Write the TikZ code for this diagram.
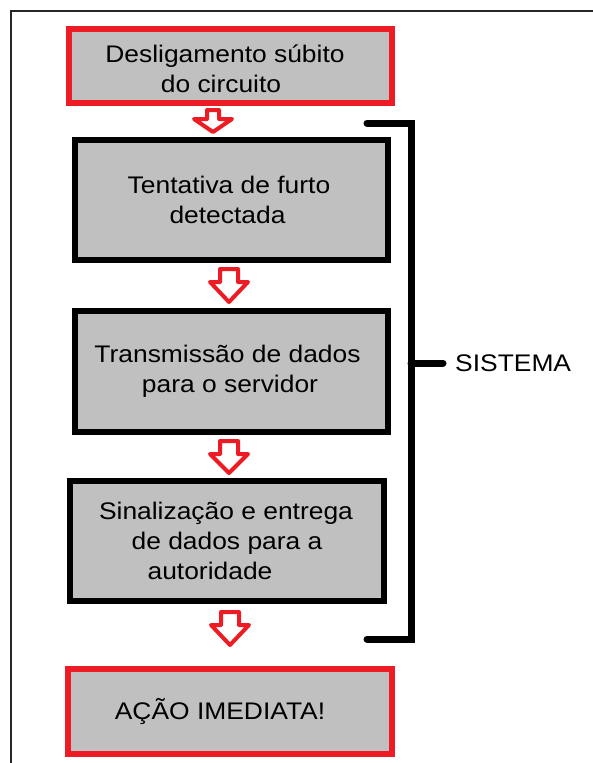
\documentclass[tikz,border=0pt]{standalone}
\usepackage{fontspec}
\setmainfont{Liberation Sans}[FakeStretch=1.1]
\usepackage{tikz}

\definecolor{boxgray}{HTML}{C0C0C0}
\definecolor{alertred}{HTML}{ED1C24}

\tikzset{
  pics/redarrow/.style n args={3}{code={
      \draw[arrowline] (-#1,0) -- (#1,0) -- (#1,#2) -- (19,#2) -- (0,#3)
        -- (-19,#2) -- (-#1,#2) -- cycle;
  }}
}

\begin{document}
\begin{tikzpicture}[x=1pt, y=-1pt,
    every node/.style={font=\fontsize{24}{30}\selectfont},
    sysbox/.style={draw=black, fill=boxgray, line width=6pt, align=center, inner sep=0pt},
    endbox/.style={draw=alertred, fill=boxgray, line width=6pt, align=center, inner sep=0pt},
    arrowline/.style={draw=alertred, fill=white, line width=4pt, line join=round}]
      \useasboundingbox (0,0) rectangle (593,763);
      % outer frame
      \draw[line width=1.5pt, black!85] (11,763) -- (11,11) -- (593,11);
      \node at (230.5,66)[endbox, minimum width=323pt, minimum height=74pt] (desl){\rule{0pt}{24pt}Desligamento súbito\hspace*{11pt}\\do circuito\hspace*{19pt}};
      \node at (231.5,200)[sysbox, minimum width=313pt, minimum height=120pt] (tent){Tentativa de furto\hspace*{5pt}\\detectada\hspace*{8pt}};
      \node at (231.5,371.5)[sysbox, minimum width=313pt, minimum height=121pt] (trans){Transmissão de dados\hspace*{8pt}\\para o servidor\hspace*{3pt}};
      \node at (227,541)[sysbox, minimum width=314pt, minimum height=120pt] (sinal){Sinalização e entrega\hspace*{2pt}\\de dados para a\hspace*{14pt}\\autoridade\hspace*{34pt}};
      \node at (230,711.5)[endbox, minimum width=324pt, minimum height=85pt] (acao){AÇÃO IMEDIATA!\hspace*{20pt}};
      % block arrows between the boxes
      \pic at (213,110) {redarrow={6}{9}{22}};
      \pic at (229,269) {redarrow={9}{13}{33}};
      \pic at (229,441) {redarrow={9}{13}{32}};
      \pic at (230,612) {redarrow={9}{13}{33}};
      % bracket
      \coordinate (btop) at (367,123);
      \coordinate (bbot) at (367,639);
      \coordinate (bmid) at (411,363);
      \node at (443,363)[anchor=west, inner xsep=12pt] (sis){SISTEMA};
      \draw[line width=7pt, line cap=round] (btop) -- (411,123) -- (411,639) -- (bbot);
      \draw[line width=7pt, line cap=round] (bmid) -- (sis.west);
\end{tikzpicture}
\end{document}
